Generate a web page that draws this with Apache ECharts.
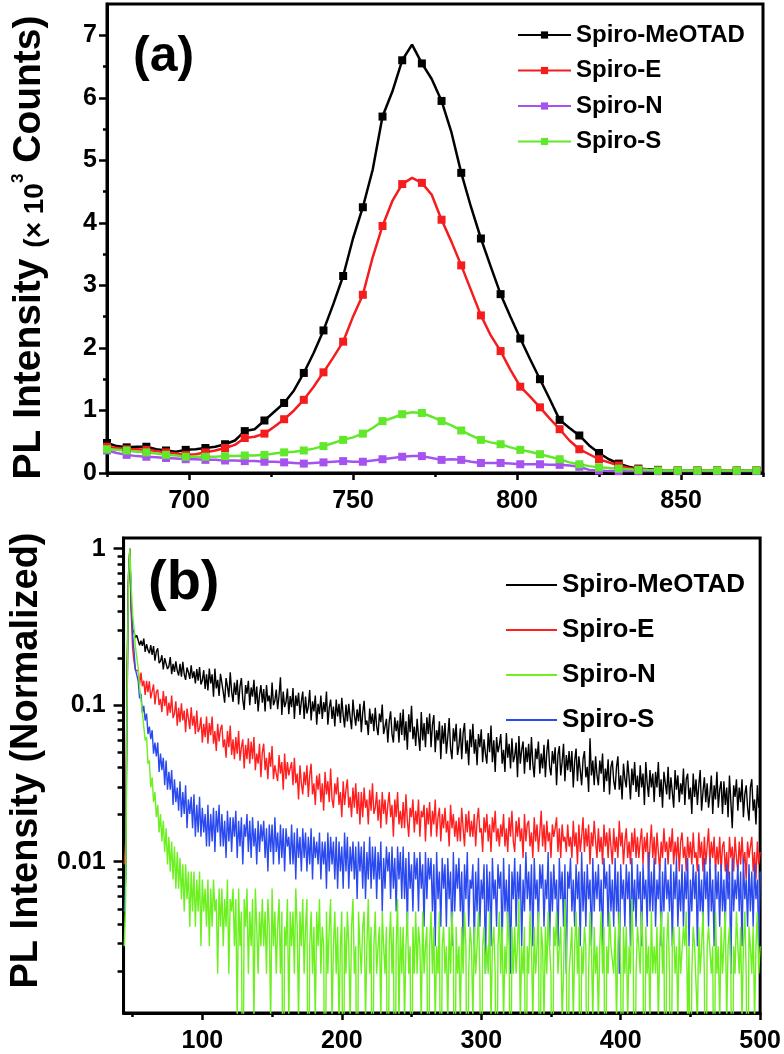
<!DOCTYPE html>
<html><head><meta charset="utf-8">
<script src="https://cdn.jsdelivr.net/npm/echarts@6/dist/echarts.min.js"></script>
<style>html,body{margin:0;padding:0;background:#fff}#c{width:784px;height:1054px}</style>
</head><body><div id="c"></div>
<script>
const FONT = '"Liberation Sans", Arial, sans-serif';

// ---------- Panel (a): steady-state PL spectra ----------
const A_WAVELENGTH = [
675,678,681,684,687,690,693,696,699,702,
705,708,711,714,717,720,723,726,729,732,
735,738,741,744,747,750,753,756,759,762,
765,768,771,774,777,780,783,786,789,792,
795,798,801,804,807,810,813,816,819,822,
825,828,831,834,837,840,843,846,849,852,
855,858,861,864,867,870,873];
const A_MEOTAD = [
0.48,0.43,0.41,0.42,0.42,0.38,0.36,0.34,0.37,0.38,
0.40,0.42,0.46,0.52,0.67,0.70,0.84,0.98,1.12,1.32,
1.60,1.92,2.28,2.70,3.15,3.75,4.25,4.85,5.70,6.10,
6.60,6.85,6.55,6.30,5.95,5.45,4.80,4.25,3.75,3.30,
2.86,2.50,2.15,1.82,1.50,1.18,0.85,0.72,0.60,0.44,
0.32,0.22,0.15,0.10,0.07,0.06,0.05,0.04,0.04,0.04,
0.04,0.04,0.04,0.04,0.04,0.04,0.04];
const A_SPIRO_E = [
0.42,0.40,0.38,0.38,0.37,0.35,0.33,0.31,0.29,0.30,
0.33,0.36,0.40,0.45,0.56,0.58,0.63,0.74,0.86,1.00,
1.17,1.38,1.61,1.85,2.10,2.50,2.85,3.45,3.95,4.35,
4.62,4.72,4.64,4.45,4.05,3.70,3.32,2.92,2.52,2.20,
1.95,1.65,1.38,1.22,1.05,0.87,0.70,0.52,0.38,0.30,
0.22,0.17,0.12,0.08,0.06,0.05,0.04,0.04,0.04,0.04,
0.04,0.04,0.04,0.04,0.04,0.04,0.04];
const A_SPIRO_N = [
0.36,0.32,0.29,0.27,0.26,0.25,0.24,0.23,0.22,0.22,
0.21,0.21,0.20,0.20,0.19,0.19,0.18,0.18,0.17,0.16,
0.15,0.16,0.17,0.18,0.19,0.18,0.18,0.20,0.22,0.24,
0.26,0.27,0.27,0.24,0.21,0.22,0.21,0.18,0.16,0.16,
0.16,0.15,0.14,0.14,0.14,0.13,0.13,0.12,0.10,0.05,
0.04,0.03,0.03,0.03,0.03,0.03,0.03,0.03,0.03,0.03,
0.03,0.03,0.03,0.03,0.03,0.03,0.03];
const A_SPIRO_S = [
0.38,0.37,0.36,0.34,0.33,0.31,0.29,0.28,0.26,0.26,
0.26,0.26,0.27,0.27,0.28,0.28,0.29,0.31,0.33,0.34,
0.36,0.39,0.43,0.48,0.53,0.57,0.63,0.72,0.83,0.88,
0.94,0.97,0.96,0.90,0.83,0.76,0.68,0.60,0.53,0.49,
0.46,0.41,0.37,0.34,0.30,0.26,0.22,0.17,0.14,0.11,
0.09,0.08,0.07,0.06,0.05,0.05,0.04,0.04,0.04,0.04,
0.04,0.04,0.04,0.04,0.04,0.04,0.04];
const A_X_TICKS = [700,750,800,850];
const A_X_MINOR = [675,725,775,825,875];
const A_Y_TICKS = [0,1,2,3,4,5,6,7];
const A_Y_MINOR = [0.5,1.5,2.5,3.5,4.5,5.5,6.5];

// ---------- Panel (b): time-resolved PL (photon counts, 1 ns bins from 44 ns to 500 ns) ----------
const B_T_START = 44, B_T_STEP = 1;
const B_MEOTAD = [
4,9,160,700,1040,430,318,304,281,290,
293,251,269,249,277,228,255,234,223,252,
218,248,200,229,240,193,199,217,176,208,
213,177,184,211,164,191,170,198,173,161,
191,158,197,164,151,181,169,153,187,155,
171,143,177,149,182,141,150,174,132,164,
129,178,143,164,118,178,133,151,119,165,
169,126,108,155,137,117,169,127,109,145,
121,151,105,137,155,113,97,140,123,149,
104,135,118,151,106,137,95,121,140,108,
132,95,140,110,120,98,145,104,111,131,
98,120,157,90,127,101,109,133,91,119,
101,134,85,120,103,125,90,110,127,85,
118,92,102,130,83,110,95,120,78,106,
91,120,85,109,94,127,78,100,113,85,
102,76,113,88,106,80,116,90,75,105,
82,106,87,73,113,90,77,98,82,106,
70,93,111,78,83,67,99,79,92,71,
100,76,67,92,81,105,68,76,85,60,
82,95,68,60,87,71,83,60,93,67,
98,62,82,54,91,70,103,63,76,57,
85,66,53,94,62,80,56,87,68,92,
56,78,90,52,72,62,82,47,77,59,
80,51,65,86,55,47,74,61,79,50,
57,74,47,69,80,51,62,43,73,56,
79,51,63,43,68,56,73,45,63,51,
44,69,52,77,45,62,39,65,52,58,
68,44,54,39,69,48,59,41,64,45,
49,60,36,66,44,54,61,38,56,45,
59,40,65,44,36,55,47,61,38,51,
41,58,36,52,63,42,37,53,44,56,
32,50,57,37,45,59,34,50,40,53,
39,53,31,46,55,34,49,40,32,47,
53,36,42,29,64,37,46,32,49,37,
32,46,38,51,29,41,34,47,28,42,
46,34,30,42,49,30,37,26,44,35,
31,46,36,26,41,32,45,29,37,27,
43,31,38,24,45,33,27,40,31,38,
25,39,31,45,27,35,23,39,33,28,
42,26,36,29,23,40,30,37,25,33,
28,41,24,35,38,26,31,21,38,27,
35,24,32,40,22,29,36,25,33,23,
28,37,21,32,26,39,23,30,34,21,
34,24,31,20,37,25,17,32,27,35,
22,31,25,35,20,28,32,23,19,31,
35,22,26,18,32,23,29];
const B_SPIRO_E = [
10,14,120,600,1040,400,240,198,174,171,
173,140,168,137,149,121,149,126,148,115,
115,141,105,126,131,104,114,94,128,103,
119,89,108,93,120,86,92,110,77,100,
81,107,83,96,70,99,86,73,101,77,
89,68,96,70,74,87,60,79,65,88,
59,80,67,88,59,71,53,79,61,73,
78,56,63,48,71,56,77,50,63,47,
65,51,71,46,56,63,41,58,47,64,
44,61,47,65,40,51,44,59,36,52,
59,40,48,35,52,42,57,35,43,38,
34,50,38,45,30,51,35,45,37,41,
45,32,48,33,38,26,43,33,28,39,
32,43,27,37,44,28,33,24,37,30,
38,25,33,22,39,28,34,25,41,26,
23,33,28,36,24,29,20,34,24,30,
35,23,27,20,31,23,33,21,29,18,
29,20,31,23,26,18,30,22,33,21,
23,29,19,26,17,29,21,26,18,24,
29,20,24,15,26,20,29,18,22,17,
25,17,28,19,15,23,20,26,16,22,
18,26,15,22,20,24,14,23,18,25,
15,22,18,26,15,20,23,14,21,17,
23,16,19,13,24,17,21,15,19,14,
20,14,23,17,13,21,16,22,15,19,
15,21,13,19,23,16,17,12,20,16,
21,14,18,12,20,16,22,14,17,13,
18,15,21,13,17,12,20,15,22,14,
12,19,15,20,14,17,11,21,14,18,
19,13,16,11,20,14,18,12,16,22,
13,18,12,19,14,16,11,18,15,17,
20,12,17,11,18,14,15,12,18,13,
15,11,19,13,16,10,18,12,15,20,
12,17,13,18,10,16,13,19,14,11,
17,12,15,10,18,13,16,11,17,13,
10,17,12,15,11,19,13,16,10,14,
17,11,14,10,16,12,17,11,15,11,
14,17,10,15,12,16,9,13,18,11,
15,10,16,12,9,14,11,17,12,14,
10,15,12,17,10,14,11,15,9,14,
16,11,13,9,15,11,14,10,16,11,
12,9,16,11,14,9,15,10,13,17,
10,14,11,15,9,13,10,15,9,13,
14,9,12,8,15,11,13,9,15,11,
9,14,10,15,10,12,8,14,11,13,
15,9,12,8,14,10,12];
const B_SPIRO_N = [
3,6,100,650,1040,600,395,322,246,210,
179,136,135,93,94,62,65,44,46,31,
36,25,29,20,24,16,21,14,19,12,
17,10,15,9,14,8,13,7,12,7,
11,6,10,5,10,6,9,4,9,5,
9,4,8,5,9,3,8,5,7,4,
8,3,7,4,8,5,6,2,7,4,
7,3,6,4,8,2,6,5,7,3,
6,1,7,3,5,0,6,4,7,2,
5,3,6,1,7,4,2,5,3,6,
3,5,2,6,4,1,7,3,5,2,
4,6,2,5,0,4,3,6,1,5,
3,5,2,7,4,1,5,3,6,2,
4,6,0,3,5,2,4,1,5,3,
6,2,4,3,0,5,2,4,6,1,
3,5,2,4,1,3,5,0,4,2,
5,3,1,4,6,2,3,0,5,3,
2,4,5,1,3,6,2,4,0,3,
5,2,3,4,1,5,3,2,4,0,
3,5,2,4,0,3,6,1,4,2,
4,1,3,5,2,3,0,4,2,5,
2,4,3,1,5,2,3,4,0,3,
5,2,4,1,3,2,5,0,3,4,
2,3,1,4,2,5,3,0,4,2,
3,1,4,2,5,3,0,2,4,3,
1,4,2,3,5,2,0,3,4,2,
3,2,5,1,3,4,2,0,3,5,
2,4,1,3,2,5,3,0,4,2,
4,2,3,6,1,3,2,4,0,3,
2,5,3,1,4,2,3,5,0,4,
3,1,4,2,5,3,2,0,4,3,
5,2,3,4,1,2,6,3,0,2,
2,4,1,3,5,2,4,0,3,2,
4,3,0,2,5,3,1,4,2,3,
1,3,5,2,4,0,3,2,5,3,
3,2,4,1,3,5,2,0,4,2,
4,1,3,2,6,3,0,2,4,3,
2,5,3,0,4,2,3,1,5,2,
3,2,4,1,3,5,2,4,0,3,
5,2,0,3,4,2,3,1,4,2,
2,4,3,5,1,3,0,2,4,3,
3,1,4,2,3,5,2,0,3,4,
4,2,3,0,5,2,3,1,4,2,
2,5,1,3,4,2,0,3,2,5,
3,2,4,1,3,5,2,0,4,3,
2,4,1,3,5,2,3];
const B_SPIRO_S = [
5,8,90,620,1040,480,296,231,176,162,
148,115,123,93,103,83,92,68,76,63,
72,51,60,49,60,39,51,40,48,32,
46,30,39,30,40,24,35,25,31,22,
34,20,29,21,32,17,26,21,27,17,
28,15,24,16,27,15,23,16,21,13,
24,13,21,14,23,12,22,16,24,13,
21,13,19,11,22,14,20,12,20,15,
22,11,19,13,20,10,18,15,21,12,
19,11,20,13,17,10,19,12,18,14,
19,11,17,9,18,12,18,10,20,12,
16,10,18,11,17,9,17,13,15,10,
18,10,16,8,17,11,15,9,17,11,
16,9,15,10,17,8,15,11,14,10,
16,8,14,10,14,7,16,9,15,10,
14,8,15,7,14,9,13,7,16,9,
15,7,13,9,14,8,13,6,14,9,
13,7,14,6,12,8,15,7,13,8,
13,6,12,8,14,5,11,7,13,9,
12,6,13,7,11,5,13,8,12,6,
13,6,11,4,12,7,10,5,12,8,
11,5,12,7,10,4,12,6,11,8,
11,5,10,3,12,6,9,4,11,7,
10,4,11,6,9,3,12,5,10,7,
11,5,9,3,10,6,12,4,8,7,
10,3,9,5,11,4,8,6,10,2,
10,5,9,3,11,6,8,4,10,7,
9,3,11,5,8,4,10,2,9,6,
11,4,9,6,10,3,8,5,12,6,
9,5,10,3,11,6,8,4,10,7,
10,4,8,6,12,3,9,5,10,6,
8,3,11,6,9,4,10,2,9,7,
11,5,8,4,10,6,9,3,12,5,
9,4,10,6,8,3,11,5,9,6,
10,5,8,3,11,7,9,4,10,5,
8,4,11,5,9,2,10,6,8,4,
10,6,9,3,11,5,8,4,10,6,
9,3,10,6,8,4,12,5,9,5,
11,4,8,6,10,3,9,5,11,6,
8,5,10,3,9,6,11,4,8,5,
10,4,9,6,11,3,8,5,10,6,
9,3,10,5,8,4,11,6,9,4,
11,5,8,3,10,6,9,4,10,5,
8,4,10,6,9,2,11,5,8,6,
10,5,9,3,11,6,8,4,10,5,
9,4,10,6,8,3,9];
const B_X_MIN = 43.5, B_X_MAX = 500;
const B_X_TICKS = [100,200,300,400,500];
const B_X_MINOR = [50,150,250,350,450];
const B_Y_MIN = 0.00108, B_Y_MAX = 1.17;
const B_Y_TICKS = [0.01,0.1,1];
const B_Y_TICK_LABELS = ['0.01','0.1','1'];
const B_Y_MINOR = [0.002,0.003,0.004,0.005,0.006,0.007,0.008,0.009,
                   0.02,0.03,0.04,0.05,0.06,0.07,0.08,0.09,
                   0.2,0.3,0.4,0.5,0.6,0.7,0.8,0.9];

const NAMES = ['Spiro-MeOTAD','Spiro-E','Spiro-N','Spiro-S'];
const A_COLORS = {'Spiro-MeOTAD':'#000000','Spiro-E':'#f41c1c','Spiro-N':'#a552ee','Spiro-S':'#62e82a'};
const B_COLORS = {'Spiro-MeOTAD':'#000000','Spiro-E':'#ff1f1f','Spiro-N':'#6cf020','Spiro-S':'#2a4af0'};

const LOG_FLOOR = -4; // zero counts drop below the axis, as on the log plot
function normLog(counts){
  const peak = Math.max.apply(null, counts);
  return counts.map((c,i)=>[B_T_START + i*B_T_STEP, c>0 ? Math.log10(c/peak) : LOG_FLOOR]);
}

const lblStyle = {color:'#000', fontSize:25, fontWeight:'bold', fontFamily:FONT};
const tickLine = {color:'#000', width:2.5};

function majorAxis(grid, min, max, ticks, tlen, margin, extra){
  return Object.assign({
    gridIndex:grid, type:'value', min:min, max:max,
    axisLine:{show:true, onZero:false, lineStyle:{color:'#000', width:3}},
    axisTick:{show:true, inside:false, customValues:ticks, length:tlen, lineStyle:tickLine},
    axisLabel:Object.assign({customValues:ticks, margin:margin}, lblStyle),
    splitLine:{show:false}
  }, extra||{});
}
function minorAxis(grid, min, max, ticks, tlen, extra){
  return Object.assign({
    gridIndex:grid, type:'value', min:min, max:max,
    axisLine:{show:false, onZero:false},
    axisTick:{show:true, inside:false, customValues:ticks, length:tlen, lineStyle:tickLine},
    axisLabel:{show:false}, splitLine:{show:false}
  }, extra||{});
}

const bYTicksLog = B_Y_TICKS.map(v=>Math.log10(v));
const bYMinorLog = B_Y_MINOR.map(v=>Math.log10(v));
const bYMin = Math.log10(B_Y_MIN), bYMax = Math.log10(B_Y_MAX);

const aSeriesData = {'Spiro-MeOTAD':A_MEOTAD,'Spiro-E':A_SPIRO_E,'Spiro-N':A_SPIRO_N,'Spiro-S':A_SPIRO_S};
const bSeriesData = {'Spiro-MeOTAD':B_MEOTAD,'Spiro-E':B_SPIRO_E,'Spiro-N':B_SPIRO_N,'Spiro-S':B_SPIRO_S};

const series = [];
NAMES.forEach(n=>{
  series.push({
    name:n, type:'line', xAxisIndex:0, yAxisIndex:0,
    data:A_WAVELENGTH.map((w,i)=>[w, aSeriesData[n][i]]),
    symbol:'rect', symbolSize:(v,p)=> (p.dataIndex % 2 === 0 ? 8 : 0),
    lineStyle:{color:A_COLORS[n], width:2.5},
    itemStyle:{color:A_COLORS[n]},
    z:2
  });
});
['Spiro-MeOTAD','Spiro-E','Spiro-S','Spiro-N'].forEach(n=>{
  series.push({
    name:'b:'+n, type:'line', xAxisIndex:2, yAxisIndex:2,
    data:normLog(bSeriesData[n]),
    symbol:'none', clip:true,
    lineStyle:{color:B_COLORS[n], width:1.4},
    itemStyle:{color:B_COLORS[n]},
    z:2
  });
});

const option = {
  animation:false,
  backgroundColor:'#fff',
  textStyle:{fontFamily:FONT},
  grid:[
    {left:107, top:4, right:21, bottom:581, show:true, borderColor:'#000', borderWidth:3, backgroundColor:'transparent'},
    {left:120, top:538, right:23, bottom:39, show:true, borderColor:'#000', borderWidth:3, backgroundColor:'transparent'}
  ],
  xAxis:[
    majorAxis(0, 675, 875, A_X_TICKS, 7, 16, {position:'bottom'}),
    minorAxis(0, 675, 875, A_X_MINOR, 4, {position:'bottom'}),
    majorAxis(1, B_X_MIN, B_X_MAX, B_X_TICKS, 7, 16, {position:'bottom'}),
    minorAxis(1, B_X_MIN, B_X_MAX, B_X_MINOR, 4, {position:'bottom'})
  ],
  yAxis:[
    majorAxis(0, 0, 7.5, A_Y_TICKS, 8, 10, {
      position:'left',
      name:'{big|PL Intensity }{small|(× 10}{sup|3}{big| Counts)}',
      nameLocation:'middle', nameRotate:90, nameGap:58,
      nameTextStyle:{color:'#000', fontFamily:FONT, fontWeight:'bold', padding:[0,18,0,0],
        rich:{
          big:{fontSize:39, fontWeight:'bold', fontFamily:FONT, color:'#000'},
          small:{fontSize:28, fontWeight:'bold', fontFamily:FONT, color:'#000', verticalAlign:'bottom'},
          sup:{fontSize:17, fontWeight:'bold', fontFamily:FONT, color:'#000', verticalAlign:'top'}
        }}
    }),
    minorAxis(0, 0, 7.5, A_Y_MINOR, 4, {position:'left'}),
    majorAxis(1, bYMin, bYMax, bYTicksLog, 10, 18, {
      position:'left',
      axisLabel:Object.assign({customValues:bYTicksLog, margin:18,
        formatter:v=>{ let best=0; bYTicksLog.forEach((t,i)=>{ if(Math.abs(t-v)<Math.abs(bYTicksLog[best]-v)) best=i; }); return B_Y_TICK_LABELS[best]; }
      }, lblStyle),
      name:'PL Intensity (Normalized)',
      nameLocation:'middle', nameRotate:90, nameGap:72,
      nameTextStyle:{color:'#000', fontFamily:FONT, fontWeight:'bold', fontSize:38, padding:[0,0,0,30]}
    }),
    minorAxis(1, bYMin, bYMax, bYMinorLog, 6, {position:'left'})
  ],
  legend:[
    {data:NAMES, orient:'vertical', left:512, top:18, itemWidth:53, itemHeight:9, itemGap:11.5,
     textStyle:{fontSize:24, fontWeight:'bold', fontFamily:FONT, color:'#000'}, selectedMode:false},
    {data:NAMES.map(n=>'b:'+n), orient:'vertical', left:501, top:567, itemWidth:51, itemHeight:2, itemGap:19,
     icon:'rect', formatter:n=>n.slice(2),
     textStyle:{fontSize:26, fontWeight:'bold', fontFamily:FONT, color:'#000'}, selectedMode:false}
  ],
  graphic:[
    {type:'text', left:133, top:32, style:{text:'(a)', font:'bold 50px "Liberation Sans", Arial, sans-serif', fill:'#000'}},
    {type:'text', left:148, top:556, style:{text:'(b)', font:'bold 56px "Liberation Sans", Arial, sans-serif', fill:'#000'}}
  ],
  series:series
};

const chart = echarts.init(document.getElementById('c'), null, {renderer:'canvas'});
chart.setOption(option);
</script>
</body></html>
